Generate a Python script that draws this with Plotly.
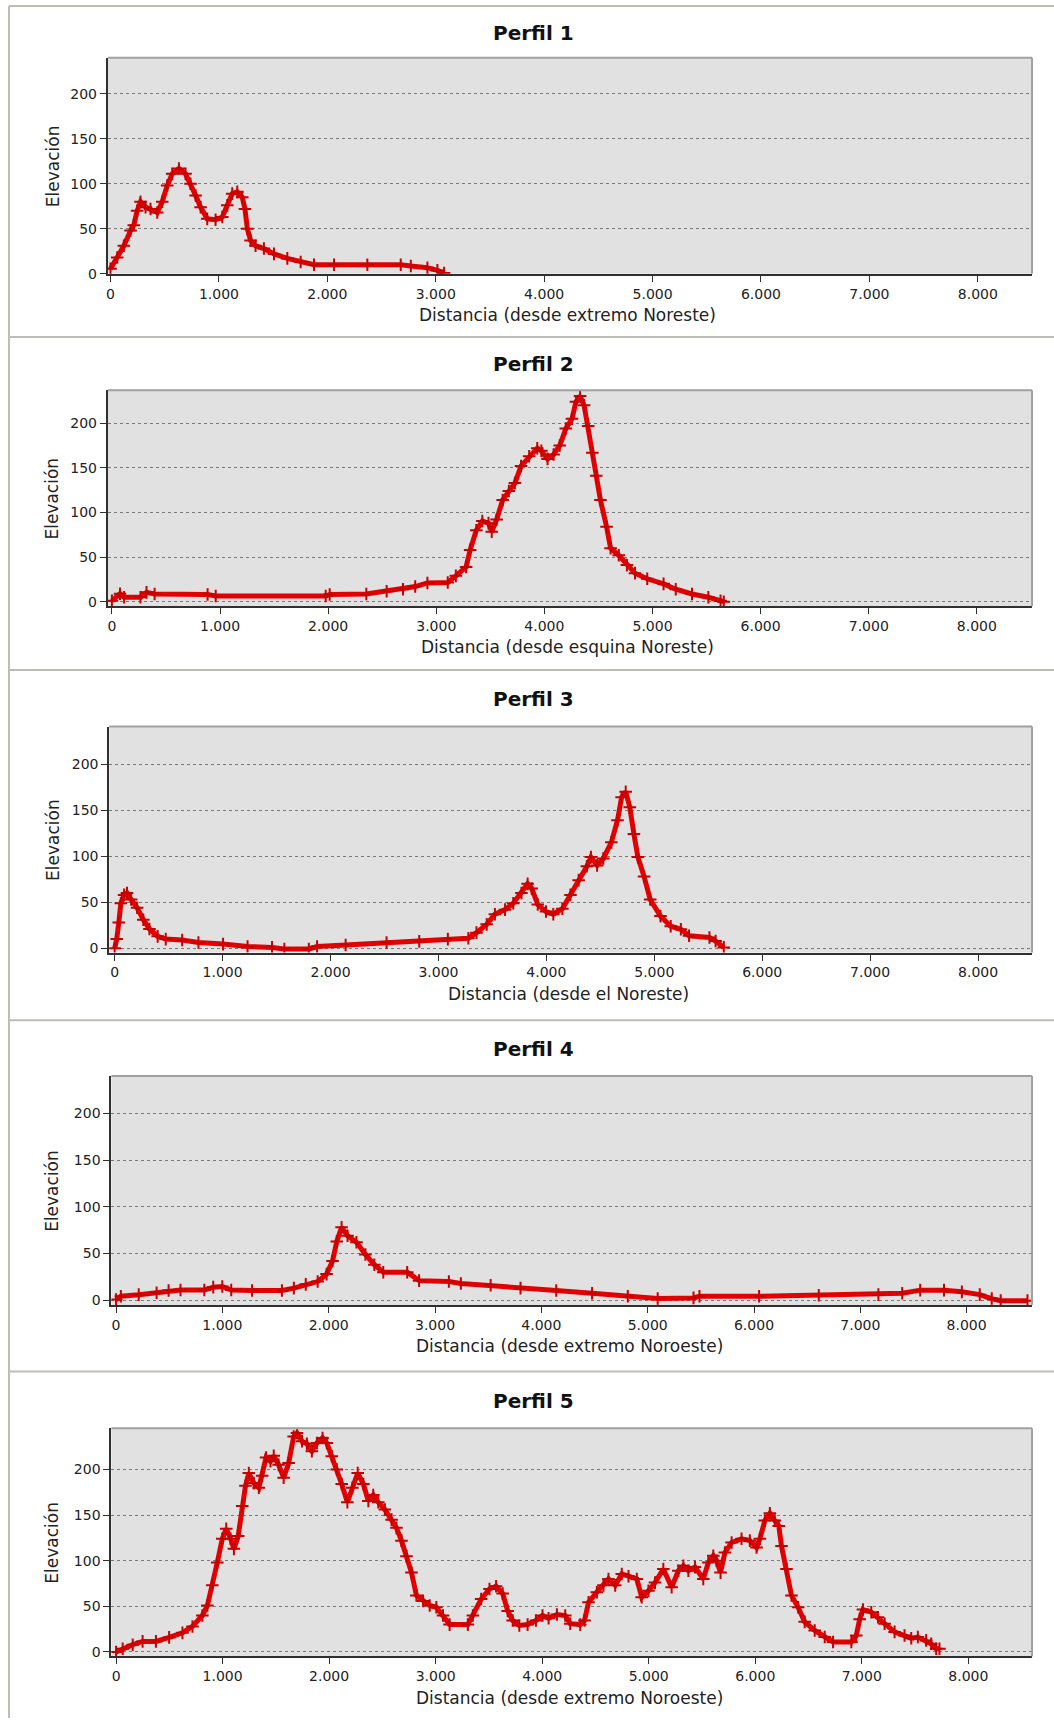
import plotly.graph_objects as go

# ---------------- data ----------------
p1_dist = [0, 62, 123, 185, 215, 246, 277, 323, 369, 431, 477, 523, 569, 631, 692, 738, 785, 831, 892,
           969, 1031, 1077, 1123, 1169, 1215, 1240, 1262, 1292, 1338, 1415, 1508, 1631, 1754, 1877,
           2062, 2369, 2677, 2770, 2923, 3015, 3077]
p1_elev = [5.5, 18, 31, 48, 54, 70, 80, 74, 72, 68, 80, 98, 111, 117, 111, 100, 87, 74, 61,
           60, 63, 76, 89, 91, 85, 72, 50, 37, 31, 28, 22, 17, 13, 10,
           10, 10, 10, 8.5, 6.7, 3.7, 0.7]

p2_dist = [0, 75, 113, 264, 320, 395, 885, 960, 1977, 2014, 2353, 2541, 2692, 2805, 2918, 3106, 3181,
           3276, 3313, 3370, 3426, 3483, 3513, 3558, 3614, 3671, 3727, 3784, 3859, 3934, 3972, 4029,
           4085, 4142, 4198, 4255, 4292, 4330, 4367, 4405, 4443, 4480, 4518, 4575, 4612, 4688, 4763,
           4838, 4951, 5102, 5215, 5365, 5516, 5629, 5659]
p2_elev = [1, 9, 5, 5, 10.5, 8.7, 8, 6.4, 6.4, 8, 8.7, 11.7, 14, 17, 21, 21.5, 29,
           39, 58, 80, 90.5, 88, 78.5, 92, 114, 124, 133, 152, 163, 172, 169, 160,
           165, 175, 194, 205, 224, 230.6, 220, 197, 167, 141, 114, 84, 60, 52, 41,
           32, 25.7, 20, 14, 8.7, 5, 1, 0]

p3_dist = [0, 19, 38, 57, 87, 114, 152, 208, 265, 322, 398, 473, 625, 776, 1004, 1231, 1458, 1572,
           1799, 1875, 2140, 2519, 2822, 3087, 3277, 3352, 3447, 3523, 3617, 3693, 3769, 3826, 3864,
           3920, 3996, 4064, 4148, 4223, 4299, 4375, 4413, 4470, 4527, 4602, 4659, 4697, 4735, 4773,
           4811, 4848, 4905, 4962, 5057, 5152, 5246, 5322, 5511, 5568, 5644]
p3_elev = [0, 10, 28, 49, 58, 60, 53, 44, 31, 21, 13, 10, 9, 6.4, 4.6, 2, 1, -0.7,
           -0.7, 2, 3.6, 6.4, 7.5, 10, 11, 17, 26, 37, 42, 49, 60, 70, 65,
           47.5, 40, 37, 43, 58, 74, 89, 99, 90, 97.5, 115, 139, 164, 170, 153,
           124, 99, 78, 53, 35, 24, 20.7, 13.6, 11.8, 8, 1]

p4_dist = [0, 45, 213, 381, 494, 606, 830, 914, 999, 1083, 1279, 1560, 1672, 1784, 1896, 1980, 2036,
           2076, 2121, 2177, 2261, 2345, 2429, 2513, 2738, 2850, 3130, 3243, 3523, 3804, 4140, 4477,
           4813, 5094, 5431, 5487, 6048, 6609, 7170, 7394, 7563, 7787, 7955, 8123, 8236, 8320, 8572]
p4_elev = [0.7, 4.3, 6, 8, 10.4, 11, 11, 14, 14.7, 11, 10.4, 10.4, 13, 17, 20, 28, 42,
           63, 78, 69, 62, 49, 38, 30, 30, 21, 20, 18, 16, 13, 10.4, 7.5,
           4.3, 1.8, 2.5, 4.3, 4.3, 5.4, 6, 7.5, 10.8, 10.8, 9, 6, 1.8, -0.4, -0.4]

p5_dist = [0, 62, 156, 249, 374, 498, 623, 717, 810, 857, 903, 950, 997, 1034, 1075, 1106, 1146, 1184,
           1215, 1246, 1293, 1340, 1371, 1408, 1449, 1480, 1526, 1573, 1620, 1667, 1698, 1745, 1791,
           1838, 1885, 1938, 1978, 2025, 2072, 2118, 2171, 2218, 2268, 2321, 2368, 2414, 2461, 2523,
           2586, 2632, 2679, 2726, 2773, 2819, 2882, 2944, 3006, 3069, 3131, 3302, 3349, 3427, 3505,
           3567, 3629, 3676, 3723, 3785, 3863, 3941, 4003, 4060, 4138, 4216, 4263, 4357, 4397, 4435,
           4513, 4575, 4622, 4685, 4747, 4810, 4888, 4934, 4997, 5059, 5137, 5215, 5278, 5325, 5372,
           5434, 5512, 5559, 5606, 5637, 5674, 5715, 5778, 5871, 5949, 6012, 6043, 6090, 6137, 6183,
           6221, 6246, 6293, 6340, 6402, 6464, 6558, 6652, 6730, 6902, 6948, 6980, 7011, 7089, 7152,
           7214, 7308, 7401, 7464, 7526, 7604, 7651, 7698, 7729]
p5_elev = [0, 3.6, 8, 11.6, 11.6, 16, 21, 28, 40, 51, 73, 98, 124, 135, 124, 113, 127, 160,
           182, 196, 185, 180, 193, 213, 209, 215, 205, 191, 207, 236, 240, 231, 228,
           220, 229, 234.5, 229, 214.5, 200, 184, 164, 180, 196, 184, 165.5, 172, 164, 156,
           145, 136, 122, 105, 87, 62, 56, 51, 49, 40, 30, 30, 40, 58, 69,
           72, 64, 45, 34.5, 29, 30, 34.5, 40, 37, 41, 40, 31, 30, 34.5, 54.5,
           65.5, 73, 80, 73, 85.5, 83, 80, 60, 67, 76, 91, 71, 89, 94.5, 89,
           93, 80, 98, 105.5, 100, 87, 109, 120, 124, 122, 114.5, 124, 144, 152, 144,
           138, 116, 91, 62, 49, 33, 23.6, 16.4, 11, 11, 18, 36, 46.5, 43.6, 38,
           31, 22, 18, 15, 16.4, 12.7, 9, 3.6, 3.6]

series_dist = [p1_dist, p2_dist, p3_dist, p4_dist, p5_dist]
series_elev = [p1_elev, p2_elev, p3_elev, p4_elev, p5_elev]

titles = ["Perfil 1", "Perfil 2", "Perfil 3", "Perfil 4", "Perfil 5"]
x_titles = ["Distancia (desde extremo Noreste)", "Distancia (desde esquina Noreste)",
            "Distancia (desde el Noreste)", "Distancia (desde extremo Noroeste)",
            "Distancia (desde extremo Noroeste)"]
y_title = "Elevación"
x_tick_vals = [0, 1000, 2000, 3000, 4000, 5000, 6000, 7000, 8000]
x_tick_text = ["0", "1.000", "2.000", "3.000", "4.000", "5.000", "6.000", "7.000", "8.000"]
y_tick_vals = [0, 50, 100, 150, 200]
y_tick_text = ["0", "50", "100", "150", "200"]

# ---------------- layout geometry (pixels) ----------------
W, H = 1054, 1726
panels = [
    dict(left=106, right=1032, top=58, bottom=275, xr=[-25, 8500], yr=[0, 240], ty=33, xty=316),
    dict(left=106, right=1032, top=392, bottom=609, xr=[-38, 8510], yr=[-5, 237], ty=366, xty=650),
    dict(left=107.5, right=1032, top=730, bottom=957, xr=[-50, 8500], yr=[-4.6, 240.6], ty=702, xty=999),
    dict(left=109.6, right=1032, top=1081, bottom=1311, xr=[-44, 8615], yr=[-5, 240], ty=1054, xty=1352),
    dict(left=109.6, right=1032, top=1435, bottom=1664, xr=[-44, 8598], yr=[-4.7, 245], ty=1408, xty=1706),
]
separators = [6, 338.5, 673, 1025, 1378]

FONT = "DejaVu Sans"
fig = go.Figure()
shapes = []
annotations = []

def px(x):
    return x / W

def py(y):
    return 1 - y / H

for i, p in enumerate(panels):
    n = "" if i == 0 else str(i + 1)
    xa, ya = "x" + n, "y" + n
    fig.add_trace(go.Scatter(
        x=series_dist[i], y=series_elev[i], xaxis=xa, yaxis=ya,
        mode="lines+markers",
        line=dict(color="#e40000", width=5),
        marker=dict(symbol="cross-thin", size=9, line=dict(width=2, color="#c80000")),
        showlegend=False, hoverinfo="skip"))
    axis_common = dict(showgrid=False, zeroline=False, showline=True, linecolor="#303030",
                       linewidth=2, ticks="outside", tickcolor="#303030", ticklen=6,
                       tickfont=dict(family=FONT, size=14, color="#222222"), fixedrange=True)
    fig.layout["xaxis" + n] = dict(
        domain=[px(p["left"]), px(p["right"])], range=p["xr"], anchor=ya,
        tickvals=x_tick_vals, ticktext=x_tick_text, **axis_common)
    fig.layout["yaxis" + n] = dict(
        domain=[py(p["bottom"]), py(p["top"])], range=p["yr"], anchor=xa,
        tickvals=y_tick_vals, ticktext=y_tick_text, **axis_common)
    fig.layout["yaxis" + n].update(showgrid=True, gridcolor="#7a7a7a", griddash="dot", gridwidth=1)
    # plot area background and light frame (top/right)
    shapes.append(dict(type="rect", xref="paper", yref="paper", layer="below",
                       x0=px(p["left"]), x1=px(p["right"]), y0=py(p["bottom"]), y1=py(p["top"]),
                       fillcolor="#e1e1e1", line=dict(width=0)))
    shapes.append(dict(type="line", xref="paper", yref="paper", layer="above",
                       x0=px(p["left"]), x1=px(p["right"]), y0=py(p["top"]), y1=py(p["top"]),
                       line=dict(color="#a0a0a0", width=2)))
    shapes.append(dict(type="line", xref="paper", yref="paper", layer="above",
                       x0=px(p["right"]), x1=px(p["right"]), y0=py(p["bottom"]), y1=py(p["top"]),
                       line=dict(color="#a0a0a0", width=2)))
    annotations.append(dict(text="<b>" + titles[i] + "</b>", xref="paper", yref="paper",
                            x=px(533), y=py(p["ty"]), xanchor="center", yanchor="middle",
                            showarrow=False, font=dict(family=FONT, size=20, color="#111111")))
    annotations.append(dict(text=x_titles[i], xref="paper", yref="paper",
                            x=px((p["left"] + p["right"]) / 2 - 2), y=py(p["xty"]),
                            xanchor="center", yanchor="middle", showarrow=False,
                            font=dict(family=FONT, size=17, color="#222222")))
    annotations.append(dict(text=y_title, xref="paper", yref="paper", textangle=-90,
                            x=px(50.5), y=py((p["top"] + p["bottom"]) / 2),
                            xanchor="center", yanchor="middle", showarrow=False,
                            font=dict(family=FONT, size=17, color="#222222")))

# panel frames
for s in separators:
    shapes.append(dict(type="line", xref="paper", yref="paper", layer="above",
                       x0=px(7), x1=1, y0=py(s), y1=py(s), line=dict(color="#bdbdb5", width=2)))
shapes.append(dict(type="line", xref="paper", yref="paper", layer="above",
                   x0=px(7), x1=px(7), y0=py(6), y1=0, line=dict(color="#bdbdb5", width=2)))

fig.update_layout(width=W, height=H, margin=dict(l=0, r=0, t=0, b=0),
                  paper_bgcolor="white", plot_bgcolor="rgba(0,0,0,0)",
                  shapes=shapes, annotations=annotations,
                  font=dict(family=FONT))
fig.write_html("out.html", config={"displayModeBar": False},
               post_script="document.body.style.margin='0';document.body.style.padding='0';")
